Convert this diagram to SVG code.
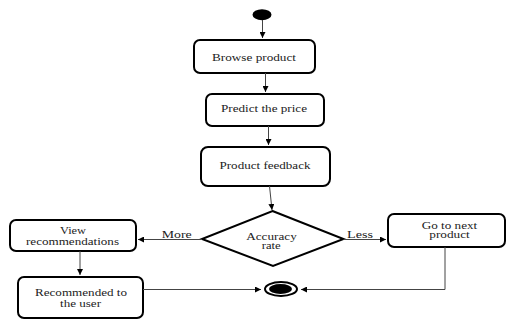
<svg xmlns="http://www.w3.org/2000/svg" width="507" height="320" viewBox="0 0 507 320">
<style>
.box{fill:#fff;stroke:#000;stroke-width:2}
.t{font-family:"Liberation Serif","Times New Roman",serif;font-size:11px;fill:#222;text-anchor:middle}
.s{font-size:9.5px}
.c{fill:none;stroke:#444;stroke-width:1}
</style>
<defs>
<marker id="ah" viewBox="0 0 8 8" refX="8" refY="4" markerWidth="6" markerHeight="6" orient="auto" markerUnits="userSpaceOnUse">
<path d="M0,0 L8,4 L0,8 Z" fill="#000"/>
</marker>
</defs>
<rect width="507" height="320" fill="#fff"/>
<g id="start"><ellipse cx="262" cy="14.7" rx="9.5" ry="5.5" fill="#000"/></g>
<g id="browse"><rect class="box" x="194" y="40" width="121" height="33" rx="6"/><text class="t" x="254" y="61" textLength="84" lengthAdjust="spacingAndGlyphs">Browse product</text></g>
<g id="predict"><rect class="box" x="206" y="94" width="118" height="32" rx="6"/><text class="t" x="264" y="111.5" textLength="86" lengthAdjust="spacingAndGlyphs">Predict the price</text></g>
<g id="feedback"><rect class="box" x="201" y="147" width="129" height="39" rx="7"/><text class="t" x="265" y="168.5" textLength="91" lengthAdjust="spacingAndGlyphs">Product feedback</text></g>
<g id="decision"><polygon points="272.5,211 343.5,239 273,266 202,239" fill="#fff" stroke="#000" stroke-width="2"/><text class="t s" x="271.5" y="239.5" textLength="50.5" lengthAdjust="spacingAndGlyphs">Accuracy</text><text class="t s" x="271.2" y="249" textLength="19" lengthAdjust="spacingAndGlyphs">rate</text></g>
<g id="view"><rect class="box" x="10" y="220" width="126" height="31" rx="6"/><text class="t s" x="73" y="234" textLength="26" lengthAdjust="spacingAndGlyphs">View</text><text class="t s" x="72.5" y="244.5" textLength="93" lengthAdjust="spacingAndGlyphs">recommendations</text></g>
<g id="recommended"><rect class="box" x="18" y="277" width="125" height="41" rx="6"/><text class="t s" x="81" y="296" textLength="92" lengthAdjust="spacingAndGlyphs">Recommended to</text><text class="t s" x="80.5" y="306.5" textLength="41" lengthAdjust="spacingAndGlyphs">the user</text></g>
<g id="next"><rect class="box" x="388" y="214" width="117" height="33" rx="6"/><text class="t s" x="449.5" y="228.5" textLength="55.5" lengthAdjust="spacingAndGlyphs">Go to next</text><text class="t s" x="449.5" y="238" textLength="40.5" lengthAdjust="spacingAndGlyphs">product</text></g>
<g id="end"><ellipse cx="281" cy="289" rx="16" ry="7" fill="#fff" stroke="#000" stroke-width="2"/><ellipse cx="280.5" cy="289" rx="11.5" ry="5" fill="#000"/></g>
<g id="connectors">
<line class="c" x1="262.5" y1="20" x2="262.5" y2="38" marker-end="url(#ah)"/>
<line class="c" x1="265.5" y1="73" x2="265.5" y2="92" marker-end="url(#ah)"/>
<line class="c" x1="268.5" y1="126" x2="268.5" y2="145" marker-end="url(#ah)"/>
<line class="c" x1="269.5" y1="186" x2="272" y2="210" marker-end="url(#ah)"/>
<line class="c" x1="202" y1="239.5" x2="138" y2="239.5" marker-end="url(#ah)"/>
<text class="t" x="176.7" y="238" textLength="30" lengthAdjust="spacingAndGlyphs">More</text>
<line class="c" x1="343.5" y1="239.5" x2="386" y2="239.5" marker-end="url(#ah)"/>
<text class="t" x="360" y="238" textLength="26" lengthAdjust="spacingAndGlyphs">Less</text>
<line class="c" x1="80" y1="251" x2="80" y2="275" marker-end="url(#ah)"/>
<line class="c" x1="143" y1="289.5" x2="261" y2="289.5" marker-end="url(#ah)"/>
<polyline class="c" points="445,247 445,289.5 301,289.5" marker-end="url(#ah)"/>
</g>
</svg>
